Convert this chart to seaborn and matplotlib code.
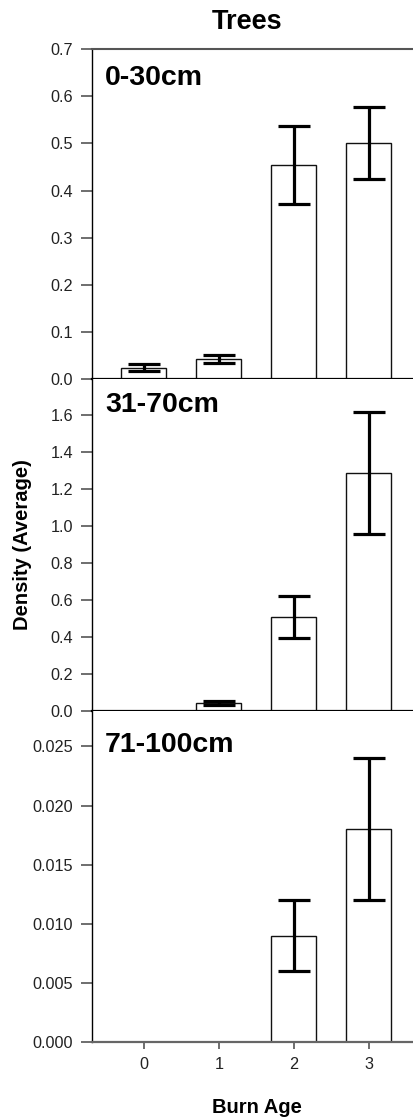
import matplotlib
matplotlib.use("Agg")
import matplotlib.pyplot as plt
import seaborn as sns
import pandas as pd

# ---- data ----
burn_age = ["0", "1", "2", "3"]
depth_labels = ["0-30cm", "31-70cm", "71-100cm"]
mean_0_30 = [0.025, 0.043, 0.454, 0.501]
err_0_30 = [0.007, 0.008, 0.083, 0.076]
mean_31_70 = [0.0, 0.045, 0.508, 1.285]
err_31_70 = [0.0, 0.010, 0.113, 0.330]
mean_71_100 = [0.0, 0.0, 0.009, 0.018]
err_71_100 = [0.0, 0.0, 0.003, 0.006]
y_ticks_0_30 = [0.0, 0.1, 0.2, 0.3, 0.4, 0.5, 0.6, 0.7]
y_ticks_31_70 = [0.0, 0.2, 0.4, 0.6, 0.8, 1.0, 1.2, 1.4, 1.6]
y_ticks_71_100 = [0.000, 0.005, 0.010, 0.015, 0.020, 0.025]

sns.set_theme(style="ticks")
plt.rcParams["font.family"] = ["Liberation Sans", "DejaVu Sans"]
plt.rcParams["text.color"] = "black"

W, H = 414, 1118
fig = plt.figure(figsize=(W / 100, H / 100), dpi=100)

left = 92 / W
width = 1.0 - left
panels = [
    (mean_0_30, err_0_30, y_ticks_0_30, (0, 0.7), 49, 379.5, "{:.1f}", 0.891),
    (mean_31_70, err_31_70, y_ticks_31_70, (0, 1.79), 379.5, 711, "{:.1f}", 0.901),
    (mean_71_100, err_71_100, y_ticks_71_100, (0, 0.028), 711, 1042, "{:.3f}", 0.877),
]

tick_col = "#555555"
axes = []
for i, (means, errs, yt, ylim, top_px, bot_px, fmt, lab_y) in enumerate(panels):
    ax = fig.add_axes([left, 1 - bot_px / H, width, (bot_px - top_px) / H])
    df = pd.DataFrame({"Burn Age": burn_age, "Density": means})
    sns.barplot(data=df, x="Burn Age", y="Density", order=burn_age, color="white",
                edgecolor="#111111", linewidth=1.0, width=0.6, errorbar=None,
                saturation=1, ax=ax, zorder=2)
    xs = [j for j, e in enumerate(errs) if e > 0]
    ax.errorbar(xs, [means[j] for j in xs], yerr=[errs[j] for j in xs], fmt="none",
                ecolor="black", elinewidth=2.3, capsize=11.5, capthick=2.3, zorder=3)
    ax.set_xlim(-0.69, 3.6)
    ax.set_ylim(*ylim)
    ax.set_yticks(yt)
    ax.set_yticklabels([fmt.format(v) for v in yt])
    ax.set_ylabel("")
    ax.set_xlabel("")
    ax.tick_params(axis="y", direction="out", length=8, width=1.2, color=tick_col,
                   labelsize=11.7, labelcolor="#222222", pad=5.5)
    ax.spines["right"].set_visible(False)
    ax.spines["left"].set_color("black")
    ax.spines["left"].set_linewidth(1.0)
    if i == 0:
        ax.spines["top"].set_color(tick_col)
        ax.spines["top"].set_linewidth(1.5)
    else:
        ax.spines["top"].set_visible(False)
    if i < 2:
        ax.spines["bottom"].set_color("black")
        ax.spines["bottom"].set_linewidth(1.6)
        ax.tick_params(axis="x", bottom=False, labelbottom=False)
    else:
        ax.spines["bottom"].set_color("#666666")
        ax.spines["bottom"].set_linewidth(1.6)
        ax.tick_params(axis="x", direction="out", length=5, width=1.2, color=tick_col,
                       labelsize=11.7, labelcolor="#222222", pad=5.5)
    ax.set_facecolor("white")
    ax.text(0.04, lab_y, depth_labels[i], transform=ax.transAxes, ha="left",
            va="baseline", fontsize=20.5, fontweight="bold", color="black")
    axes.append(ax)

fig.text(247 / W, 1 - 29.3 / H, "Trees", ha="center", va="baseline",
         fontsize=19.5, fontweight="bold", color="black")
fig.text(256.7 / W, 1 - 1112.7 / H, "Burn Age", ha="center", va="baseline",
         fontsize=14.5, fontweight="bold", color="black")
fig.text(23 / W, 1 - 545 / H, "Density (Average)", ha="center", va="center",
         rotation=90, fontsize=14.5, fontweight="bold", color="black")

fig.savefig("out.png", dpi=100, facecolor="white")
